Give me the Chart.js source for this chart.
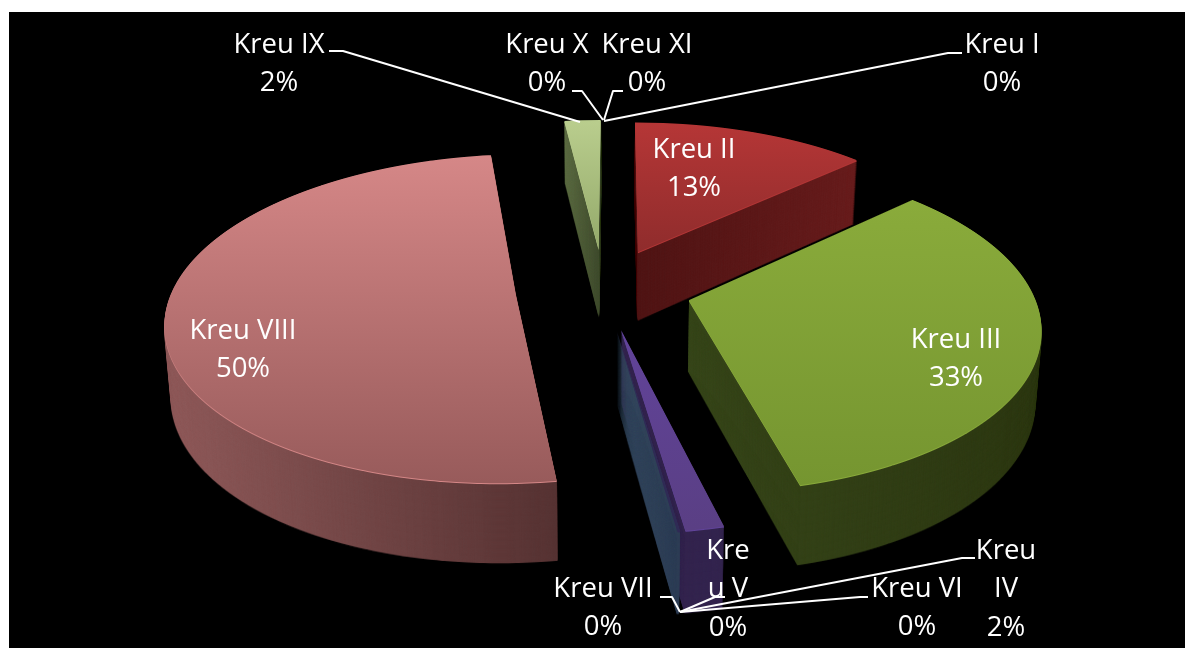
<!DOCTYPE html>
<html><head><meta charset="utf-8">
<style>html,body{margin:0;padding:0;background:#fff;overflow:hidden}canvas{display:block}</style>
<script src="https://cdn.jsdelivr.net/npm/chart.js@4"></script>
</head><body><canvas id="c" width="1185" height="648"></canvas>
<script>
const categories = ['Kreu I','Kreu II','Kreu III','Kreu IV','Kreu V','Kreu VI','Kreu VII','Kreu VIII','Kreu IX','Kreu X','Kreu XI'];
const shares = [0,13.1,33,1.5,0,0,0.1,50.3,2,0,0];
const sliceColors = ['#4f81bd','#b23434','#86a63a','#6a4a9a','#4bacc6','#f79646','#2f2a55','#c97c7c','#b4c98a','#8064a2','#4bacc6'];

// styling of the faces: [top-of-gradient, bottom-of-gradient, yFrom, yTo] and [left, right, xFrom, xTo]
const topFaces = [
 ['#4f81bd','#4f81bd',100,200],['#b53636','#8f2c2c',124,253],['#8aab3b','#759530',200,487],['#61439a','#5a3f84',330,530],
 ['#4bacc6','#4bacc6',300,500],['#f79646','#f79646',300,500],['#2f2a55','#2f2a55',330,530],['#d58787','#985b5b',157,482],
 ['#b9cd8d','#93a96a',122,250],['#8064a2','#8064a2',100,200],['#4bacc6','#4bacc6',100,200]];
const sideFaces = [
 ['#27405e','#27405e',600,640],['#501515','#681d1d',637,858],['#37461a','#2d3812',688,1040],['#33244e','#33244e',680,722],
 ['#255663','#255663',600,640],['#7b4b23','#7b4b23',600,640],['#35495f','#2d3d55',618,680],['#8f5a5a','#553232',166,565],
 ['#5e6e44','#3f4b2d',563,600],['#403251','#403251',600,640],['#255663','#255663',600,640]];
const paintOrder = [8,1,7,3,6,2];

// labels: centre x, line centres y, lines
const labelLayout = [
 {x:1002,y:45,lines:['Kreu I']},{x:694,y:150,lines:['Kreu II']},{x:956,y:340,lines:['Kreu III']},
 {x:1006,y:551,lines:['Kreu','IV']},{x:728,y:551,lines:['Kre','u V']},{x:917,y:589,lines:['Kreu VI']},
 {x:603,y:589,lines:['Kreu VII']},{x:243,y:331,lines:['Kreu VIII']},{x:279,y:45,lines:['Kreu IX']},
 {x:547,y:45,lines:['Kreu X']},{x:647,y:45,lines:['Kreu XI']}];
const leaders = [
 [[962,53],[948,53],[604,121]],[[329,51],[343,51],[580,122]],[[572,91],[582,91],[603,120]],[[623,91],[613,91],[604,120]],
 [[660,597],[672,597],[680,612]],[[725,597],[715,597],[680,612]],[[868,597],[860,597],[680,612]],[[975,558],[962,558],[680,612]]];

// view of the pie plane
const R = 200, EXPLODE = 0.257*R, VX = 614.5, HOR = 776, SLOPE = 0.3222, B = 7120, A = 6.617, CX = -0.032, CY = -0.072;
const total = shares.reduce((a,b)=>a+b,0);

function makeMask(arc, W, H){
  const cv = document.createElement('canvas'); cv.width=W; cv.height=H;
  const g = cv.getContext('2d');
  const half=(arc.startAngle+arc.endAngle)/2, ox=Math.cos(half)*EXPLODE, oy=Math.sin(half)*EXPLODE;
  for(let y=90;y<560;y++){
    const ym=y+0.5, Y=A-B/(ym+HOR), s=SLOPE*(ym+HOR);
    const py=arc.y+(Y-CY)*R, a=s/R, d=(ym+HOR)*(ym+HOR)/(B*R);
    const e=VX+(CX-arc.x/R)*s, f=ym-py*d;
    g.save(); g.beginPath(); g.rect(0,y,W,1); g.clip();
    g.setTransform(a,0,0,d,e+a*ox,f+d*oy);
    arc.draw(g);
    g.restore();
  }
  return cv;
}
function tinted(mask, grad){
  const cv=document.createElement('canvas'); cv.width=mask.width; cv.height=mask.height;
  const g=cv.getContext('2d');
  g.drawImage(mask,0,0); g.globalCompositeOperation='source-in';
  const lg = grad(g); g.fillStyle=lg; g.fillRect(0,0,cv.width,cv.height);
  return cv;
}
const pie3d = {
  id:'pie3d',
  beforeDraw(chart){ const c=chart.ctx; c.save(); c.fillStyle='#fff'; c.fillRect(0,0,1185,648); c.fillStyle='#000'; c.fillRect(9,12,1176,636); c.restore(); },
  beforeDatasetsDraw(chart){
    const ctx=chart.ctx, arcs=chart.getDatasetMeta(0).data, W=chart.width, H=chart.height;
    const layers={};
    paintOrder.forEach(i=>{
      const m=makeMask(arcs[i],W,H), tf=topFaces[i], sf=sideFaces[i];
      layers[i]={
        top:tinted(m,g=>{const l=g.createLinearGradient(0,tf[2],0,tf[3]);l.addColorStop(0,tf[0]);l.addColorStop(1,tf[1]);return l;}),
        side:tinted(m,g=>{const l=g.createLinearGradient(sf[2],0,sf[3],0);l.addColorStop(0,sf[0]);l.addColorStop(1,sf[1]);return l;}),
        rim:tinted(m,g=>{const l=g.createLinearGradient(0,tf[2],0,tf[3]);l.addColorStop(0,tf[0]);l.addColorStop(1,tf[0]);return l;})
      };
    });
    const sweep=(im)=>{
      for(let n=90;n>=1;n--){
        const t=n/90, kx=1-0.015*t, ky=1+0.05*t;
        ctx.setTransform(kx,0,0,ky,VX*(1-kx),t*(64-0.05*163));
        ctx.drawImage(im,0,0);
      }
      ctx.setTransform(1,0,0,1,0,0);
    };
    ctx.save();
    paintOrder.forEach(i=>{
      sweep(layers[i].side);
      if(i===3){ return; }
      ctx.drawImage(layers[i].rim,0,1);
      ctx.drawImage(layers[i].top,0,0);
      if(i===6){ ctx.drawImage(layers[3].rim,0,1); ctx.drawImage(layers[3].top,0,0); }
    });
    ctx.restore();
    return false;
  },
  afterDraw(chart){
    const c=chart.ctx; c.save();
    c.strokeStyle='#fff'; c.lineWidth=2; c.lineJoin='round';
    leaders.forEach(p=>{c.beginPath();p.forEach((q,i)=>i?c.lineTo(q[0],q[1]):c.moveTo(q[0],q[1]));c.stroke();});
    c.fillStyle='#fff'; c.font='27.5px "Open Sans"'; c.textAlign='center'; c.textBaseline='middle';
    labelLayout.forEach((l,i)=>{
      const rows=l.lines.concat([Math.round(shares[i]/total*100)+'%']);
      rows.forEach((t,k)=>c.fillText(t,l.x,l.y+k*38.5));
    });
    c.restore();
  }
};
new Chart(document.getElementById('c'),{
  type:'pie',
  data:{labels:categories,datasets:[{data:shares,backgroundColor:sliceColors,borderWidth:0}]},
  options:{responsive:false,animation:false,events:[],radius:R,plugins:{legend:{display:false},tooltip:{enabled:false}}},
  plugins:[pie3d]
});
</script></body></html>
